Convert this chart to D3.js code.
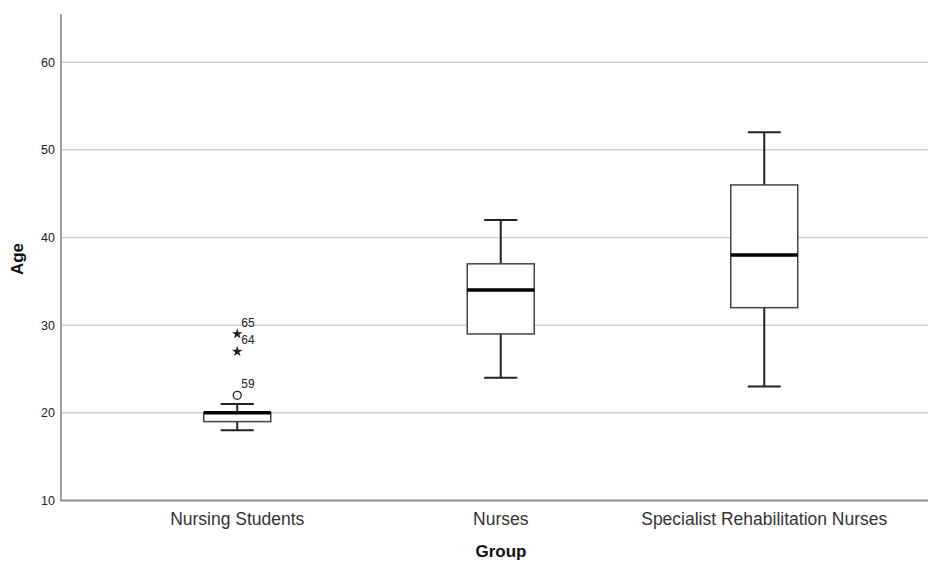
<!DOCTYPE html>
<html>
<head>
<meta charset="utf-8">
<script src="https://cdn.jsdelivr.net/npm/d3@7"></script>
<style>
  html, body { margin: 0; padding: 0; background: #fff; }
  svg { display: block; font-family: "Liberation Sans", Arial, sans-serif; }
</style>
</head>
<body>
<svg id="chart" width="928" height="562"></svg>
<script>
// ---- data ----
const categories = ["Nursing Students", "Nurses", "Specialist Rehabilitation Nurses"];
const whiskerLow = [18, 24, 23];
const q1 = [19, 29, 32];
const median = [20, 34, 38];
const q3 = [20, 37, 46];
const whiskerHigh = [21, 42, 52];
const outlierGroup = ["Nursing Students", "Nursing Students", "Nursing Students"];
const outlierValue = [22, 27, 29];
const outlierLabel = ["59", "64", "65"];
const outlierType = ["circle", "star", "star"];
const yTicks = [10, 20, 30, 40, 50, 60];
const yTitle = "Age";
const xTitle = "Group";

// ---- layout ----
const svg = d3.select("#chart");
const W = 928, H = 562;
const axisX = 61, axisBottom = 500.5, axisTop = 14;

const y = d3.scaleLinear().domain([10, 65.5]).range([axisBottom, axisTop]);
const x = d3.scaleBand().domain(categories).range([105.5, 896]).paddingInner(0).paddingOuter(0);
const cx = c => x(c) + x.bandwidth() / 2;
const boxW = 67, capW = 33;

// gridlines
svg.append("g").selectAll("line").data(yTicks.filter(t => t > 10)).join("line")
  .attr("x1", axisX).attr("x2", W)
  .attr("y1", d => y(d)).attr("y2", d => y(d))
  .attr("stroke", "#cfcfcf").attr("stroke-width", 1.5);

// y axis via d3
const yAxis = d3.axisLeft(y).tickValues(yTicks).tickSize(0).tickPadding(6);
const gy = svg.append("g").attr("transform", `translate(${axisX},0)`).call(yAxis);
gy.select(".domain").remove();
gy.selectAll("text").attr("font-size", 12.5).attr("fill", "#222")
  .attr("font-family", "'Liberation Sans', Arial, sans-serif");

// axis lines
svg.append("line").attr("x1", axisX).attr("x2", axisX).attr("y1", axisTop).attr("y2", axisBottom)
  .attr("stroke", "#a0a0a0").attr("stroke-width", 2);
svg.append("line").attr("x1", axisX - 1).attr("x2", W).attr("y1", axisBottom).attr("y2", axisBottom)
  .attr("stroke", "#909090").attr("stroke-width", 2);

// x axis labels via d3
const xAxis = d3.axisBottom(x).tickSize(0).tickPadding(12);
const gx = svg.append("g").attr("transform", `translate(0,${axisBottom})`).call(xAxis);
gx.select(".domain").remove();
gx.selectAll("text").attr("font-size", 17.5).attr("fill", "#333")
  .attr("font-family", "'Liberation Sans', Arial, sans-serif");

// boxes
const stats = categories.map((c, i) => ({ c, lo: whiskerLow[i], q1: q1[i], med: median[i], q3: q3[i], hi: whiskerHigh[i] }));
const g = svg.append("g");
const box = g.selectAll("g.box").data(stats).join("g").attr("class", "box");

// whiskers
box.append("line").attr("x1", d => cx(d.c)).attr("x2", d => cx(d.c))
  .attr("y1", d => y(d.hi)).attr("y2", d => y(d.q3)).attr("stroke", "#222").attr("stroke-width", 2);
box.append("line").attr("x1", d => cx(d.c)).attr("x2", d => cx(d.c))
  .attr("y1", d => y(d.q1)).attr("y2", d => y(d.lo)).attr("stroke", "#222").attr("stroke-width", 2);
box.append("line").attr("x1", d => cx(d.c) - capW / 2).attr("x2", d => cx(d.c) + capW / 2)
  .attr("y1", d => y(d.hi)).attr("y2", d => y(d.hi)).attr("stroke", "#222").attr("stroke-width", 2);
box.append("line").attr("x1", d => cx(d.c) - capW / 2).attr("x2", d => cx(d.c) + capW / 2)
  .attr("y1", d => y(d.lo)).attr("y2", d => y(d.lo)).attr("stroke", "#222").attr("stroke-width", 2);
// box rect
box.append("rect").attr("x", d => cx(d.c) - boxW / 2).attr("width", boxW)
  .attr("y", d => y(d.q3)).attr("height", d => y(d.q1) - y(d.q3))
  .attr("fill", "#fff").attr("stroke", "#444").attr("stroke-width", 1.5);
// median
box.append("line").attr("x1", d => cx(d.c) - boxW / 2).attr("x2", d => cx(d.c) + boxW / 2)
  .attr("y1", d => y(d.med)).attr("y2", d => y(d.med)).attr("stroke", "#000").attr("stroke-width", 3.5);

// outliers
const outs = outlierValue.map((v, i) => ({ c: outlierGroup[i], v, label: outlierLabel[i], type: outlierType[i] }));
const og = svg.append("g").selectAll("g").data(outs).join("g")
  .attr("transform", d => `translate(${cx(d.c)},${y(d.v)})`);
og.filter(d => d.type === "circle").append("circle").attr("r", 4)
  .attr("fill", "#fff").attr("stroke", "#222").attr("stroke-width", 1.3);
og.filter(d => d.type === "star").append("path")
  .attr("d", d3.symbol().type(d3.symbolStar).size(36)).attr("fill", "#222");
og.append("text").attr("x", 4).attr("y", -7).attr("font-size", 12).attr("fill", "#222")
  .text(d => d.label);

// titles
svg.append("text").attr("transform", `translate(23,259) rotate(-90)`)
  .attr("text-anchor", "middle").attr("font-size", 17).attr("font-weight", "bold").attr("fill", "#111")
  .text(yTitle);
svg.append("text").attr("x", 501).attr("y", 557)
  .attr("text-anchor", "middle").attr("font-size", 17).attr("font-weight", "bold").attr("fill", "#111")
  .text(xTitle);
</script>
</body>
</html>
